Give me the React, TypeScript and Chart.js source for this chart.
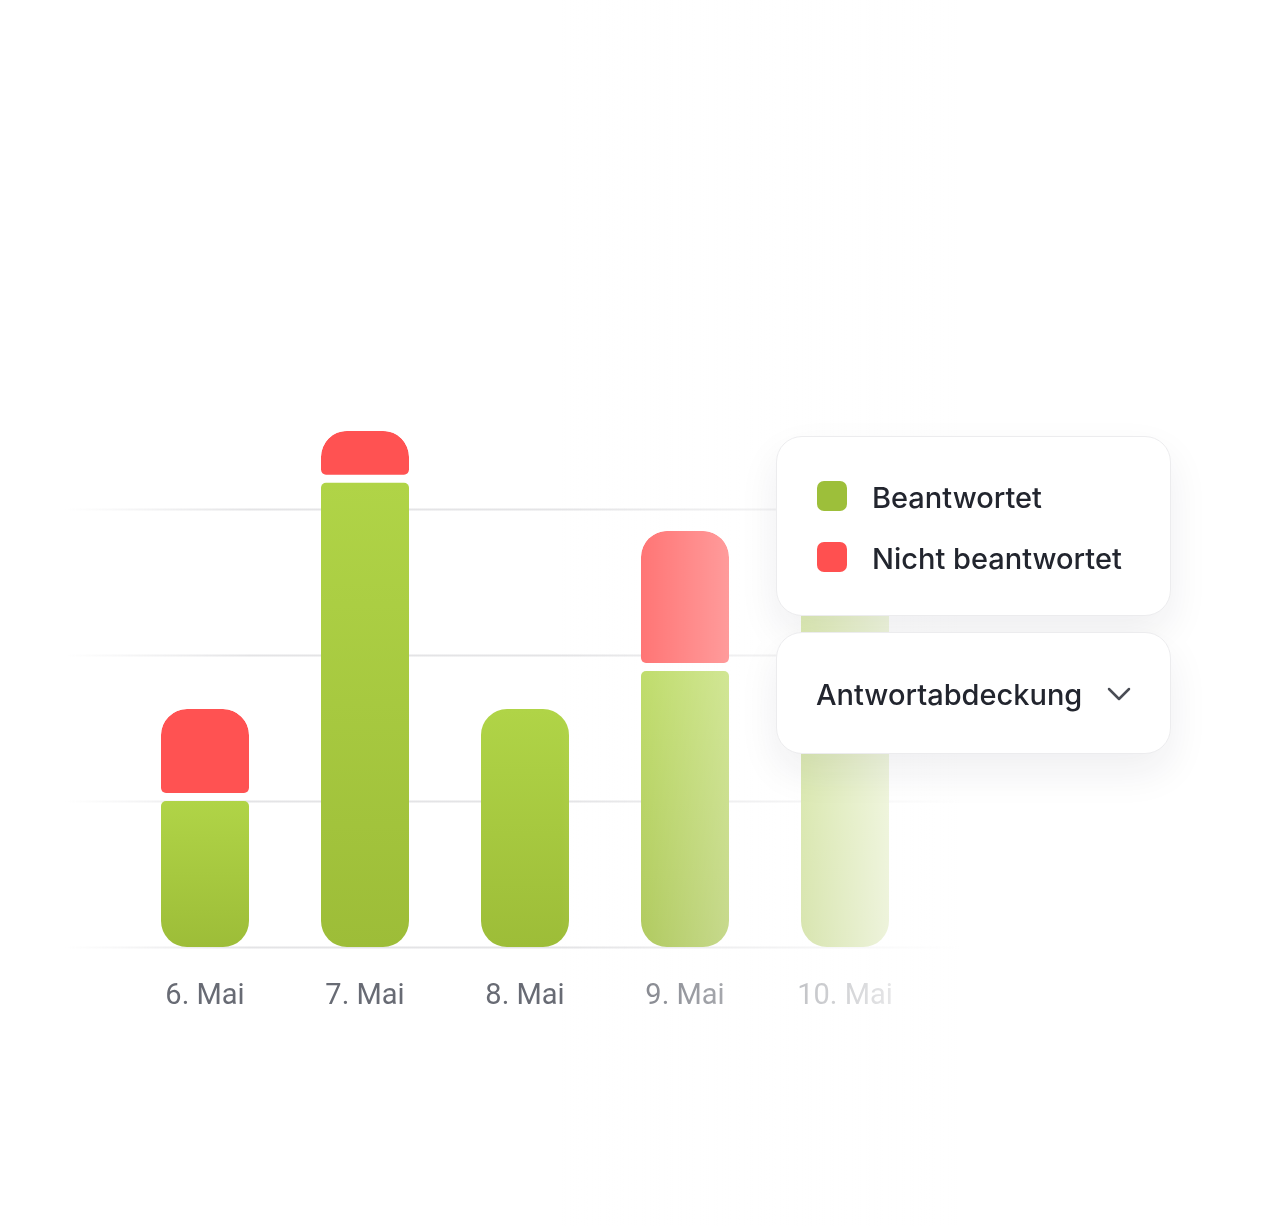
import React, { useEffect, useRef } from "react";
import { Chart, registerables } from "chart.js";

Chart.register(...registerables);

const categories = ["6. Mai", "7. Mai", "8. Mai", "9. Mai", "10. Mai"];
const answered = [1.0, 3.18, 1.63, 1.89, 2.6];
const unanswered = [0.63, 0.355, null, 0.96, null];
const gridValues = [0, 1, 2, 3];
const legendLabels = ["Beantwortet", "Nicht beantwortet"];
const dropdownLabel = "Antwortabdeckung";

const GREEN_TOP = "#b0d447";
const GREEN_BOTTOM = "#9dbd38";
const RED = "#ff5252";

export default function App() {
  const ref = useRef<HTMLCanvasElement | null>(null);

  useEffect(() => {
    const canvas = ref.current!;
    const gridPlugin = {
      id: "fadedGrid",
      beforeDatasetsDraw(chart: any) {
        const ctx = chart.ctx;
        const y = chart.scales.y;
        ctx.save();
        const g = ctx.createLinearGradient(65, 0, 250, 0);
        g.addColorStop(0, "rgba(228,228,230,0)");
        g.addColorStop(1, "rgba(228,228,230,1)");
        ctx.strokeStyle = g;
        ctx.lineWidth = 2;
        gridValues.forEach((v) => {
          const py = Math.round(y.getPixelForValue(v)) + 0.5;
          ctx.beginPath();
          ctx.moveTo(65, py);
          ctx.lineTo(960, py);
          ctx.stroke();
        });
        ctx.restore();
      },
    };
    const fadePlugin = {
      id: "rightFade",
      afterDraw(chart: any) {
        const ctx = chart.ctx;
        ctx.save();
        const g = ctx.createLinearGradient(560, 0, 960, 0);
        g.addColorStop(0, "rgba(255,255,255,0)");
        g.addColorStop(0.85, "rgba(255,255,255,0.85)");
        g.addColorStop(1, "rgba(255,255,255,1)");
        ctx.fillStyle = g;
        ctx.fillRect(560, 0, chart.width - 560, chart.height);
        ctx.restore();
      },
    };

    const greenBg = (c: any) => {
      const chart = c.chart;
      const ys = chart.scales?.y;
      if (!chart.chartArea || !ys || c.dataIndex === undefined) return GREEN_BOTTOM;
      const v = answered[c.dataIndex] ?? 0;
      const top = ys.getPixelForValue(v);
      const bot = ys.getPixelForValue(0);
      const g = chart.ctx.createLinearGradient(0, top, 0, bot);
      g.addColorStop(0, GREEN_TOP);
      g.addColorStop(1, GREEN_BOTTOM);
      return g;
    };

    const chart = new Chart(canvas, {
      type: "bar",
      data: {
        labels: categories,
        datasets: [
          {
            label: legendLabels[0],
            data: answered,
            backgroundColor: greenBg,
            borderSkipped: false,
            borderWidth: 0,
            inflateAmount: 0,
            borderRadius: (c: any) =>
              unanswered[c.dataIndex] != null
                ? { topLeft: 5, topRight: 5, bottomLeft: 26, bottomRight: 26 }
                : { topLeft: 26, topRight: 26, bottomLeft: 26, bottomRight: 26 },
            stack: "s",
          } as any,
          {
            label: legendLabels[1],
            data: unanswered,
            backgroundColor: RED,
            borderColor: "rgba(255,255,255,0)",
            borderWidth: { top: 0, left: 0, right: 0, bottom: 8 },
            borderSkipped: false,
            inflateAmount: 0,
            borderRadius: { topLeft: 26, topRight: 26, bottomLeft: 13, bottomRight: 13 },
            stack: "s",
          } as any,
        ],
      },
      options: {
        responsive: false,
        animation: false,
        events: [],
        layout: { padding: { left: 125, right: 347, top: 363, bottom: 219 } },
        datasets: { bar: { categoryPercentage: 1, barPercentage: 0.55 } },
        plugins: { legend: { display: false }, tooltip: { enabled: false } },
        scales: {
          x: {
            stacked: true,
            grid: { display: false, drawTicks: false },
            border: { display: false },
            ticks: {
              color: "#686b74",
              padding: 32,
              font: { family: "Roboto", size: 29 },
            },
            afterFit: (s: any) => {
              s.height = 60;
            },
          },
          y: {
            stacked: true,
            display: false,
            min: 0,
            max: 4,
          },
        },
      } as any,
      plugins: [gridPlugin, fadePlugin],
    });
    return () => chart.destroy();
  }, []);

  const box: React.CSSProperties = {
    position: "absolute",
    left: 776,
    width: 395,
    background: "#ffffff",
    border: "1px solid #ececee",
    borderRadius: 26,
    boxShadow: "0 18px 40px rgba(30,30,50,0.07)",
    boxSizing: "border-box",
  };
  const text: React.CSSProperties = {
    fontFamily: "Inter, 'Noto Sans', sans-serif",
    fontSize: 29,
    fontWeight: 500,
    color: "#22252e",
    letterSpacing: 0,
    whiteSpace: "nowrap",
    position: "absolute",
  };
  const sq = (c: string, top: number): React.CSSProperties => ({
    position: "absolute",
    left: 40,
    top,
    width: 30,
    height: 30,
    borderRadius: 7,
    background: c,
  });

  return (
    <div style={{ position: "absolute", left: 0, top: 0, width: 1272, height: 1226, background: "#fff", overflow: "hidden" }}>
      <canvas ref={ref} width={1272} height={1226} style={{ position: "absolute", left: 0, top: 0 }} />
      <div style={{ ...box, top: 436, height: 180 }}>
        <div style={sq("#9dbf3a", 44)} />
        <div style={{ ...text, left: 95, top: 43, lineHeight: "36px" }}>{legendLabels[0]}</div>
        <div style={sq("#ff5050", 105)} />
        <div style={{ ...text, left: 95, top: 104, lineHeight: "36px" }}>{legendLabels[1]}</div>
      </div>
      <div style={{ ...box, top: 632, height: 122 }}>
        <div style={{ ...text, left: 39, top: 44, lineHeight: "36px" }}>{dropdownLabel}</div>
        <svg style={{ position: "absolute", left: 329, top: 52 }} width="26" height="18" viewBox="0 0 26 18">
          <polyline points="3,4 13,14 23,4" fill="none" stroke="#4a4d55" strokeWidth="2.5" strokeLinecap="round" strokeLinejoin="round" />
        </svg>
      </div>
    </div>
  );
}
